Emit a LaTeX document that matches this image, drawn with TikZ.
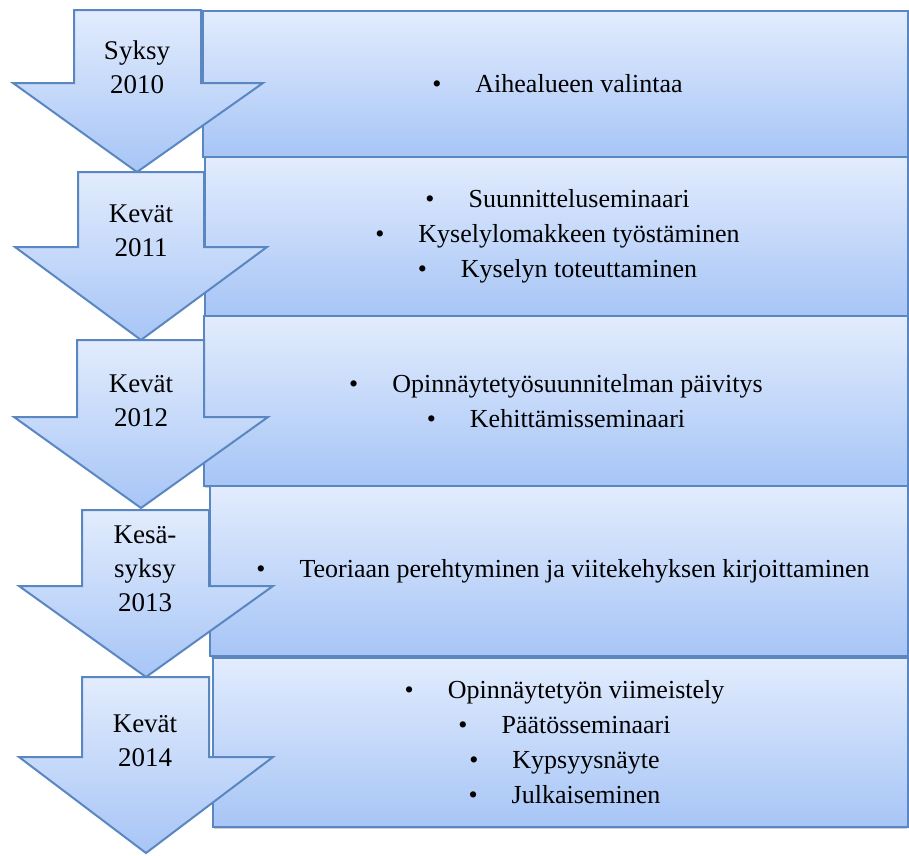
\documentclass[tikz,border=0pt]{standalone}
\usepackage{fontspec}
\setmainfont{Liberation Serif}
\newfontfamily\tnr{Liberation Serif}
\usetikzlibrary{shadows}
\definecolor{edge}{HTML}{5A87C2}
\definecolor{ltop}{HTML}{E2ECFD}
\definecolor{lbot}{HTML}{A7C5F6}
\newcommand{\bitem}[1]{\textbullet\hspace{34pt}#1}
\begin{document}
\begin{tikzpicture}[x=1pt,y=-1pt,
  stagebox/.style={draw=edge, line width=2pt, top color=ltop, bottom color=lbot,
    anchor=north west, inner sep=0pt},
  itemtext/.style={align=center, text=black, font=\tnr\fontsize{26}{35}\selectfont},
  downarrow/.style={draw=edge, line width=2pt, top color=ltop, bottom color=lbot, line join=miter},
  period/.style={align=center, text=black, font=\tnr\fontsize{27}{34}\selectfont}]
\useasboundingbox (0,0) rectangle (909,855);

% shadows under boxes
\foreach \xl/\yb in {202/156,204/315,203/485,209/655,212/826}{
  \fill[black, opacity=0.18] (\xl+2,\yb) rectangle (907,\yb+3);
}

% boxes
\node[stagebox, minimum width=705pt, minimum height=146pt] (b1) at (202,10) {};
\node[stagebox, minimum width=703pt, minimum height=159pt] (b2) at (204,156) {};
\node[stagebox, minimum width=704pt, minimum height=170pt] (b3) at (203,315) {};
\node[stagebox, minimum width=698pt, minimum height=170pt] (b4) at (209,485) {};
\node[stagebox, minimum width=695pt, minimum height=169pt] (b5) at (212,657) {};

% box texts
\node[itemtext] (t1) at ([xshift=2pt]b1.center) {\bitem{Aihealueen valintaa}};
\node[itemtext] (t2) at ([xshift=1pt]b2.center)
  {\bitem{Suunnitteluseminaari}\\ \bitem{Kyselylomakkeen työstäminen}\\ \bitem{Kyselyn toteuttaminen}};
\node[itemtext] (t3) at (b3.center)
  {\bitem{Opinnäytetyösuunnitelman päivitys}\\ \bitem{Kehittämisseminaari}};
\node[itemtext] (t4) at ([xshift=4pt]b4.center)
  {\bitem{Teoriaan perehtyminen ja viitekehyksen kirjoittaminen}};
\node[itemtext] (t5) at ([xshift=4pt]b5.center)
  {\bitem{Opinnäytetyön viimeistely}\\ \bitem{Päätösseminaari}\\ \bitem{Kypsyysnäyte}\\ \bitem{Julkaiseminen}};

% arrows
\draw[downarrow] (74,10) -- (201,10) -- (201,83) -- (263,83) -- (137,172) -- (13,83) -- (74,83) -- cycle;
\draw[downarrow] (78,172) -- (204,172) -- (204,247) -- (267,247) -- (141,340) -- (15,247) -- (78,247) -- cycle;
\draw[downarrow] (77,340) -- (204,340) -- (204,417) -- (268,417) -- (141,508) -- (14,417) -- (77,417) -- cycle;
\draw[downarrow] (82,510) -- (209,510) -- (209,586) -- (273,586) -- (146,677) -- (19,586) -- (82,586) -- cycle;
\draw[downarrow] (82,677) -- (209,677) -- (209,757) -- (273,757) -- (146,853) -- (19,757) -- (82,757) -- cycle;

% period labels
\node[period] (p1) at (137,67) {Syksy\\2010};
\node[period] (p2) at (141,231) {Kevät\\2011};
\node[period] (p3) at (141,401) {Kevät\\2012};
\node[period] (p4) at (145,569) {Kesä-\\syksy\\2013};
\node[period] (p5) at (145,741) {Kevät\\2014};
\end{tikzpicture}
\end{document}
